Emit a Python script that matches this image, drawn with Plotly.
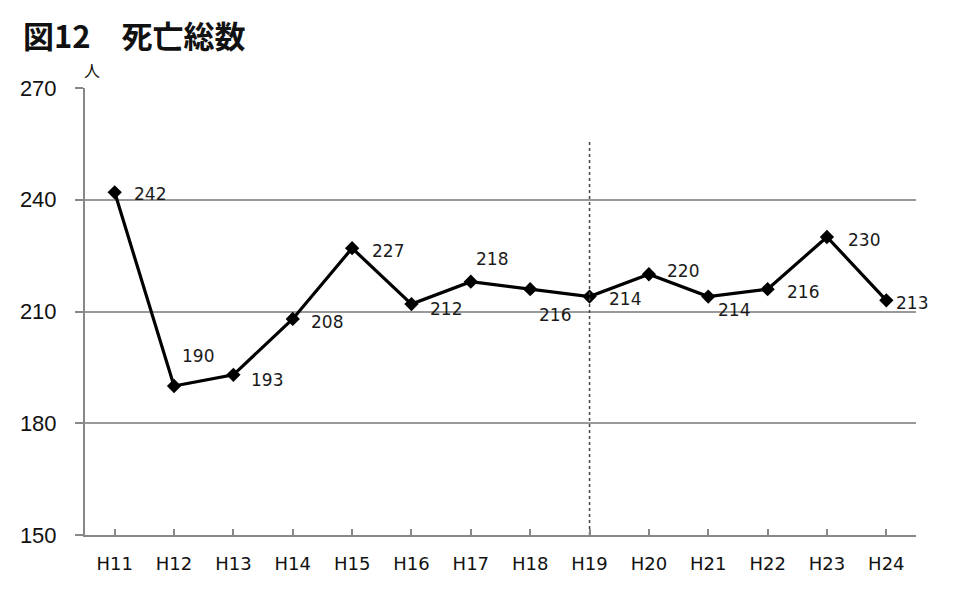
import plotly.graph_objects as go

years = ["H11", "H12", "H13", "H14", "H15", "H16", "H17", "H18", "H19", "H20", "H21", "H22", "H23", "H24"]
deaths = [242, 190, 193, 208, 227, 212, 218, 216, 214, 220, 214, 216, 230, 213]
y_ticks = [150, 180, 210, 240, 270]
divider_year = "H19"
divider_top = 256

# label offsets (pixels) per point
label_dx = [35, 24, 34, 34, 36, 35, 21, 25, 35, 34, 26, 35, 37, 26]
label_dy = [-2, 30, -5, -3, -3, -5, 23, -26, -2, 3, -13, -3, -3, -3]

fig = go.Figure()
fig.add_trace(go.Scatter(
    x=years, y=deaths, mode="lines+markers",
    line=dict(color="black", width=3.2),
    marker=dict(symbol="diamond", size=11, color="black"),
    showlegend=False, hoverinfo="skip",
))
fig.add_trace(go.Scatter(
    x=[divider_year, divider_year], y=[150, divider_top], mode="lines",
    line=dict(color="#444444", width=1.5, dash="dot"),
    showlegend=False, hoverinfo="skip",
))

for x, v, dx, dy in zip(years, deaths, label_dx, label_dy):
    fig.add_annotation(x=x, y=v, text=str(v), showarrow=False,
                       xshift=dx, yshift=dy,
                       font=dict(family="DejaVu Sans", size=17, color="#1a1a1a"))

fig.add_annotation(xref="paper", yref="paper", x=-0.0767, y=1.1186, xanchor="left", yanchor="middle",
                   text="<b>図12　死亡総数</b>", showarrow=False,
                   font=dict(family="Noto Sans CJK JP", size=31, color="#111111"))
fig.add_annotation(xref="paper", yref="paper", x=0.0084, y=1.04, xanchor="center", yanchor="middle",
                   text="人", showarrow=False,
                   font=dict(family="Noto Sans CJK JP", size=16, color="#111111"))

fig.update_layout(
    width=956, height=584,
    margin=dict(l=74, r=48, t=80, b=57),
    plot_bgcolor="white", paper_bgcolor="white",
    font=dict(family="Liberation Sans", color="#111111"),
)
fig.update_xaxes(
    type="category", range=[-0.5, 13.5],
    showline=True, linecolor="#888888", linewidth=2,
    ticks="inside", ticklen=6, tickcolor="#888888", tickwidth=1.5,
    showgrid=False, tickfont=dict(family="DejaVu Sans", size=18, color="#111111"),
    ticklabelstandoff=11,
    fixedrange=True,
)
fig.update_yaxes(
    range=[150, 270], tickvals=y_ticks,
    showline=True, linecolor="#888888", linewidth=2,
    ticks="outside", ticklen=8, tickcolor="#888888", tickwidth=1.5,
    showgrid=True, gridcolor="#999999", gridwidth=2,
    zeroline=False,
    tickfont=dict(family="Liberation Sans", size=22, color="#111111"),
    ticklabelstandoff=14,
)

fig.write_html("out.html")
